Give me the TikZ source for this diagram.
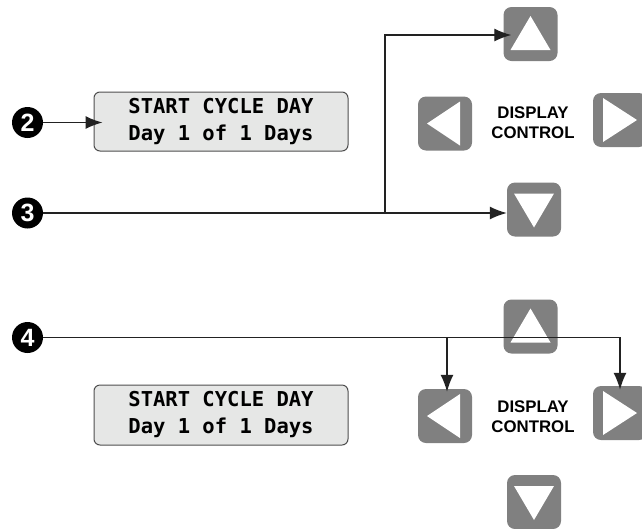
\documentclass[tikz,border=0pt]{standalone}
\usepackage{fontspec}
\newfontfamily\lcdfont{DejaVu Sans Mono}
\newfontfamily\lblfont{Liberation Sans}
\usetikzlibrary{arrows.meta}
\definecolor{keygray}{HTML}{808080}
\definecolor{lcdfill}{HTML}{E6E7E6}
\definecolor{inkline}{HTML}{222222}
\tikzset{
  keybtn/.style={fill=keygray, rounded corners=8pt, minimum width=54pt, minimum height=54pt, inner sep=0pt},
  keyglyph/.style={fill=white},
  lcd/.style={draw=inkline!80, line width=1pt, fill=lcdfill, rounded corners=6pt,
    minimum width=254pt, minimum height=59pt, align=center, inner sep=0pt,
    font=\lcdfont\bfseries\fontsize{20.5}{27}\selectfont},
  ctrltext/.style={align=center, font=\lblfont\bfseries\fontsize{16.8}{20}\selectfont},
  stepmark/.style={circle, fill=black, minimum size=31pt, inner sep=0pt,
    text=white, font=\lblfont\bfseries\fontsize{25}{25}\selectfont},
  wire/.style={draw=inkline, line width=1.3pt},
  arr/.style={wire, -{Latex[length=17pt,width=13pt]}}
}
\begin{document}
\begin{tikzpicture}[x=1pt,y=-1pt]
\useasboundingbox (0,0) rectangle (642,528);

% step markers
\node[stepmark] (c2) at (27.5,122.5) {2};
\node[stepmark] (c3) at (27.5,213) {3};
\node[stepmark] (c4) at (27.5,337.5) {4};

% display windows
\node[lcd] (lcd1) at (221,121.5) {START CYCLE DAY\\Day 1 of 1 Days};
\node[lcd, minimum height=60pt] (lcd2) at (221,415) {START CYCLE DAY\\Day 1 of 1 Days};

% upper keypad
\node[keybtn] (u1) at (530.5,34) {};
\node[keybtn] (l1) at (445,123.5) {};
\node[keybtn] (r1) at (620,120) {};
\node[keybtn] (d1) at (534,209.5) {};
\node[ctrltext] (t1) at (533,123) {DISPLAY\\CONTROL};

% lower keypad
\node[keybtn] (u2) at (530.5,326.5) {};
\node[keybtn] (l2) at (445,416) {};
\node[keybtn] (r2) at (620,413) {};
\node[keybtn] (d2) at (534,502) {};
\node[ctrltext] (t2) at (533,417) {DISPLAY\\CONTROL};

% key glyphs
\foreach \k in {u1,u2}
  \path[keyglyph, shift={(\k.center)}] (-20,16) -- (20,16) -- (0,-18) -- cycle;
\foreach \k in {d1,d2}
  \path[keyglyph, shift={(\k.center)}] (-20,-16) -- (20,-16) -- (0,18) -- cycle;
\foreach \k in {l1,l2}
  \path[keyglyph, shift={(\k.center)}] (15,-22) -- (15,22) -- (-18,0) -- cycle;
\foreach \k in {r1,r2}
  \path[keyglyph, shift={(\k.center)}] (-17,-22) -- (-17,22) -- (17,0) -- cycle;

% connectors
\coordinate (j3) at (385,213);
\coordinate (j4) at (447,337.5);

\draw[arr, shorten >=-9pt] (c2.east) -- (c2.east -| lcd1.west);
\draw[arr] (c3.east) -- (c3.east -| d1.west);
\draw[arr, shorten >=-8pt] (j3) |- ([yshift=-1pt]u1.west);
\draw[arr, shorten >=-4pt] (c4.east) -| (r2.north);
\draw[arr, shorten >=-3pt] (j4) -- (j4 |- l2.north);
\end{tikzpicture}
\end{document}
